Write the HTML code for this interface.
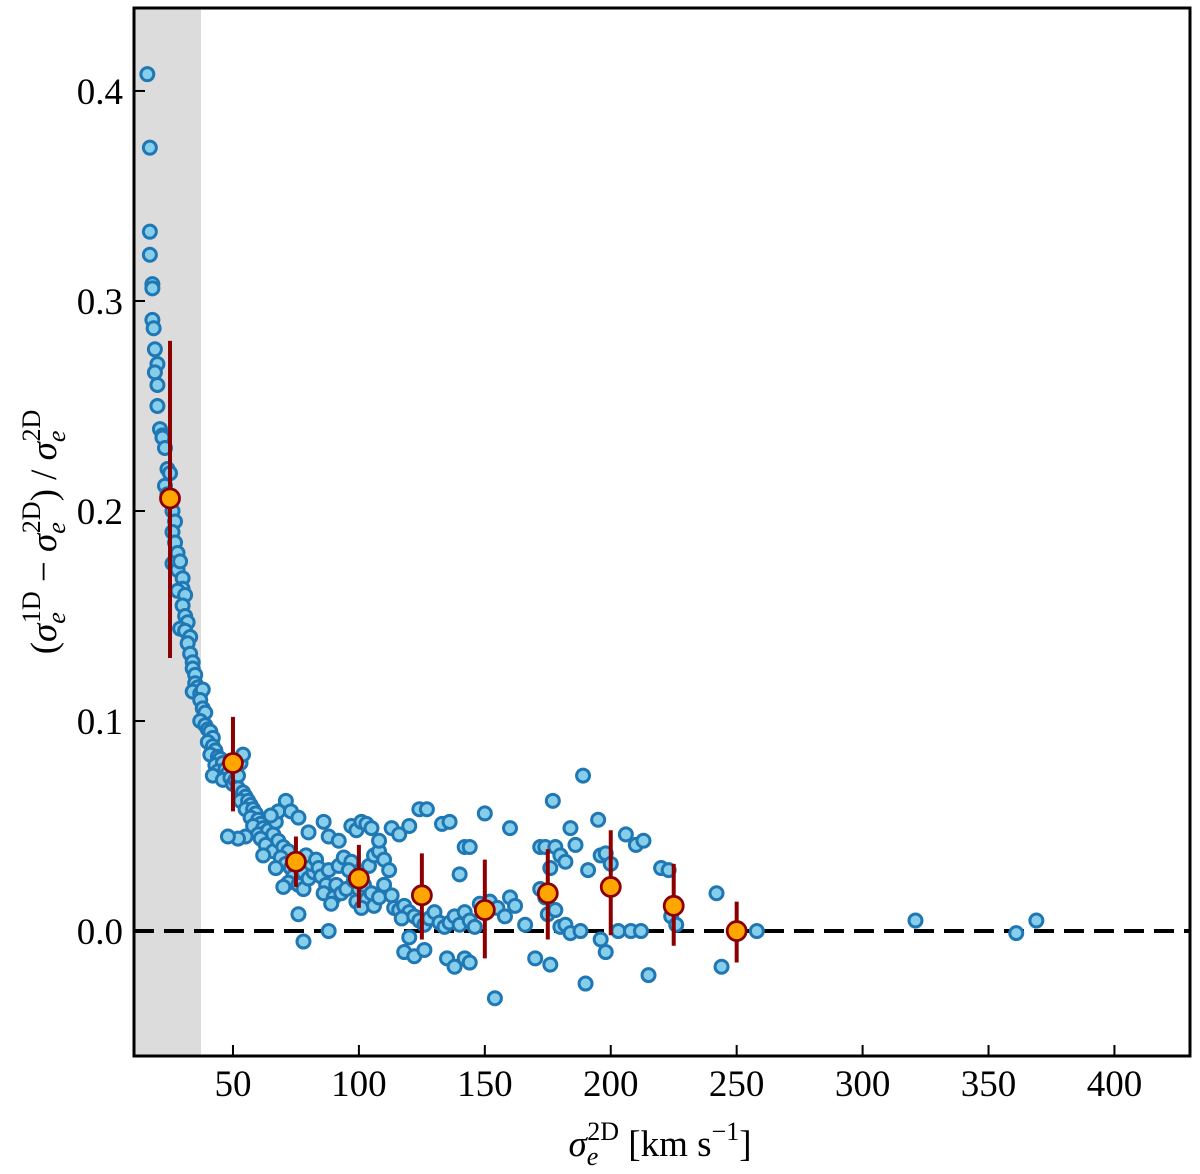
<!DOCTYPE html>
<html><head><meta charset="utf-8"><style>
body{margin:0;background:#fff;}
svg{display:block;font-family:"Liberation Serif",serif;}
</style></head><body>
<svg id="chart" width="1200" height="1174">
<rect x="134" y="8" width="67" height="1048" fill="#dcdcdc"/>
<g id="pts"></g><g id="bins"></g><g id="axes"></g>
</svg>
<script>
const xTicks=[50,100,150,200,250,300,350,400];
const yTicks=[0.0,0.1,0.2,0.3,0.4];
const pointsX=[16,17,17,17,18,18,18,18.5,19,20,19,20,20,21,22,22,23,24,25,23,24,25,26,27,26,27,28,26,28,29,30,30,28,31,30,31,32,29,31,33,32,33,34,34,35,35,36,34,37,38,37,38,39,37,39,40,41,42,40,42,43,41,44,45,43,46,44,42,47,48,46,49,50,51,52,53,54,52,54,55,53,56,57,55,58,59,57,60,61,58,62,63,60,64,61,66,55,52,48,67,68,65,63,66,62,68,70,72,69,71,73,67,75,76,74,78,72,70,76,78,80,82,81,79,83,84,85,87,88,86,90,91,89,93,95,92,94,97,96,98,100,102,99,103,105,101,106,108,104,106,108,110,112,110,113,114,116,118,120,117,122,124,126,128,130,132,134,136,138,140,142,144,146,71,73,76,80,86,88,92,97,99,101,103,105,108,113,116,120,124,127,133,136,142,150,160,76,78,88,118,120,122,126,135,138,142,144,154,140,144,148,152,155,160,162,166,158,170,172,174,176,178,177,180,182,184,186,189,191,196,198,200,206,210,195,175,178,180,182,172,174,184,188,190,198,196,213,220,223,203,208,212,215,224,226,242,244,258,321,361,369,176];
const pointsY=[0.408,0.373,0.333,0.322,0.308,0.306,0.291,0.287,0.277,0.270,0.266,0.260,0.250,0.239,0.236,0.235,0.230,0.220,0.218,0.212,0.208,0.205,0.200,0.195,0.190,0.185,0.180,0.175,0.172,0.176,0.168,0.163,0.162,0.160,0.155,0.150,0.147,0.144,0.143,0.140,0.137,0.132,0.128,0.125,0.122,0.118,0.116,0.114,0.113,0.115,0.110,0.106,0.104,0.100,0.098,0.096,0.095,0.092,0.090,0.088,0.086,0.084,0.083,0.082,0.079,0.080,0.076,0.074,0.077,0.075,0.072,0.073,0.070,0.072,0.074,0.080,0.084,0.068,0.066,0.064,0.062,0.062,0.060,0.058,0.058,0.056,0.054,0.053,0.051,0.050,0.049,0.047,0.046,0.048,0.044,0.046,0.045,0.044,0.045,0.052,0.057,0.055,0.041,0.038,0.036,0.043,0.040,0.038,0.035,0.032,0.030,0.030,0.034,0.029,0.026,0.028,0.023,0.021,0.022,0.020,0.025,0.028,0.032,0.036,0.034,0.030,0.026,0.022,0.029,0.018,0.016,0.022,0.013,0.018,0.020,0.031,0.035,0.033,0.029,0.024,0.020,0.022,0.014,0.015,0.018,0.011,0.012,0.016,0.031,0.036,0.038,0.034,0.029,0.022,0.017,0.011,0.010,0.012,0.009,0.006,0.007,0.005,0.003,0.006,0.009,0.004,0.002,0.004,0.007,0.003,0.009,0.005,0.002,0.062,0.057,0.054,0.047,0.052,0.045,0.043,0.050,0.048,0.052,0.051,0.049,0.043,0.049,0.046,0.050,0.058,0.058,0.051,0.052,0.040,0.056,0.049,0.008,-0.005,0.000,-0.010,-0.003,-0.012,-0.009,-0.013,-0.017,-0.013,-0.015,-0.032,0.027,0.040,0.013,0.014,0.011,0.016,0.012,0.003,0.007,-0.013,0.040,0.040,0.030,0.040,0.062,0.036,0.033,0.049,0.041,0.074,0.029,0.036,0.037,0.032,0.046,0.041,0.053,0.008,0.010,0.002,0.003,0.020,0.016,-0.001,0.000,-0.025,-0.010,-0.004,0.043,0.030,0.029,0.000,0.000,0.000,-0.021,0.007,0.003,0.018,-0.017,0.000,0.005,-0.001,0.005,-0.016];
const binX=[25,50,75,100,125,150,175,200,225,250];
const binY=[0.206,0.080,0.033,0.025,0.017,0.010,0.018,0.021,0.012,0.000];
const binLo=[0.130,0.057,0.021,0.011,-0.004,-0.013,-0.004,-0.002,-0.007,-0.015];
const binHi=[0.281,0.102,0.045,0.041,0.037,0.034,0.039,0.048,0.032,0.014];

const L=134,R=1190,T=8,B=1056,X0=10.7,X1=430,Y0=-0.0595,Y1=0.4395;
const sx=v=>L+(v-X0)/(X1-X0)*(R-L);
const sy=v=>B-(v-Y0)/(Y1-Y0)*(B-T);
const NS='http://www.w3.org/2000/svg';
function mk(p,tag,a){const e=document.createElementNS(NS,tag);for(const k in a)e.setAttribute(k,a[k]);p.appendChild(e);return e;}
const pts=document.getElementById('pts'),bins=document.getElementById('bins'),ax=document.getElementById('axes');
const zl=mk(pts,'line',{x1:L,x2:R,y1:sy(0),y2:sy(0),stroke:'#000','stroke-width':4,'stroke-dasharray':'20,10'});


pointsX.forEach((x,i)=>{
 const c=mk(pts,'circle',{cx:sx(x),cy:sy(pointsY[i]),r:6.5,fill:'#87ceeb',stroke:'#1f77b4','stroke-width':3});
 
 
});
binX.forEach((x,i)=>{
 const l=mk(bins,'line',{x1:sx(x),x2:sx(x),y1:sy(binLo[i]),y2:sy(binHi[i]),stroke:'#8b0000','stroke-width':4});
 
 
 const c=mk(bins,'circle',{cx:sx(x),cy:sy(binY[i]),r:9.5,fill:'#ffa500',stroke:'#8b0000','stroke-width':2.8});
 
 
});
const fr=mk(ax,'rect',{x:L,y:T,width:R-L,height:B-T,fill:'none',stroke:'#000','stroke-width':3});


xTicks.forEach(v=>{
 mk(ax,'line',{x1:sx(v),x2:sx(v),y1:B,y2:B-11,stroke:'#000','stroke-width':2});
 const t=mk(ax,'text',{x:sx(v),y:B+40,'font-size':37,'text-anchor':'middle'});t.textContent=v;
 
 
});
yTicks.forEach(v=>{
 mk(ax,'line',{x1:L,x2:L+11,y1:sy(v),y2:sy(v),stroke:'#000','stroke-width':2});
 const t=mk(ax,'text',{x:L-11,y:sy(v)+13,'font-size':37,'text-anchor':'end'});t.textContent=v.toFixed(1);
 
 
});
</script>
<svg style="position:absolute;left:0;top:0" width="1200" height="1174">
<text x="660" y="1156" font-family="Liberation Serif,serif" font-size="37" text-anchor="middle"><tspan font-style="italic">σ</tspan><tspan font-style="italic" font-size="26" dy="9">e</tspan><tspan font-size="26" dy="-25" dx="-11">2D</tspan><tspan dy="16"> [km s</tspan><tspan font-size="26" dy="-16">−1</tspan><tspan dy="16">]</tspan></text>
<text transform="translate(56,532) rotate(-90)" font-family="Liberation Serif,serif" font-size="37" text-anchor="middle">(<tspan font-style="italic">σ</tspan><tspan font-style="italic" font-size="26" dy="9">e</tspan><tspan font-size="26" dy="-25" dx="-11">1D</tspan><tspan dy="16"> − </tspan><tspan font-style="italic">σ</tspan><tspan font-style="italic" font-size="26" dy="9">e</tspan><tspan font-size="26" dy="-25" dx="-11">2D</tspan><tspan dy="16">) / </tspan><tspan font-style="italic">σ</tspan><tspan font-style="italic" font-size="26" dy="9">e</tspan><tspan font-size="26" dy="-25" dx="-11">2D</tspan></text>
</svg>
</body></html>
